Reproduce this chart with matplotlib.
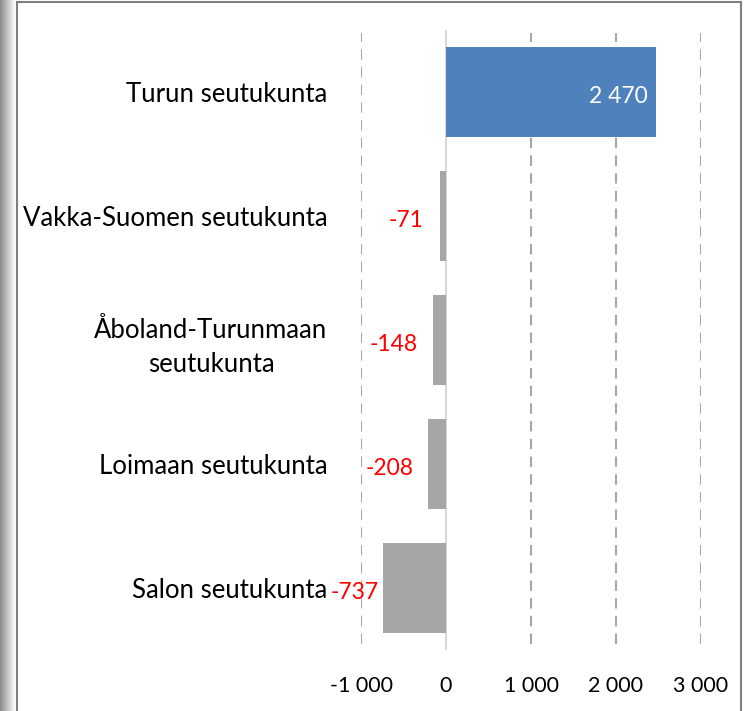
import matplotlib
matplotlib.use("Agg")
import matplotlib.pyplot as plt
import numpy as np
from matplotlib.patches import Rectangle

plt.rcParams["font.family"] = ["Lato", "DejaVu Sans"]

# Data
regions = ["Turun seutukunta", "Vakka-Suomen seutukunta",
           "Åboland-Turunmaan\nseutukunta", "Loimaan seutukunta",
           "Salon seutukunta"]
values = [2470, -71, -148, -208, -737]
value_labels = ["2 470", "-71", "-148", "-208", "-737"]
x_ticks = [-1000, 0, 1000, 2000, 3000]
x_tick_labels = ["-1 000", "0", "1 000", "2 000", "3 000"]

# label offsets (pixels) from bar end
label_offsets = [-8, -16, -16, -15, -5]

fig = plt.figure(figsize=(7.45, 7.11), dpi=100)

# frame with shadow on the left
for i in range(15):
    g = 0.55 + 0.03 * i
    fig.patches.append(Rectangle((i / 745, 0), 1 / 745, 1, transform=fig.transFigure,
                                 facecolor=(g, g, g), edgecolor="none", zorder=-2))
fig.patches.append(Rectangle((17 / 745, -0.05), 724 / 745, 1.05 - 1.5 / 711,
                             transform=fig.transFigure, facecolor="white",
                             edgecolor="#7f7f7f", linewidth=1.5, zorder=-1))

ax = fig.add_axes([361 / 745, 61 / 711, 340 / 745, 620 / 711])
ax.set_zorder(2)

y = np.arange(len(regions))
colors = ["#4F81BD" if v > 0 else "#A6A6A6" for v in values]
ax.barh(y, values, height=0.72, color=colors, zorder=3)

for yi, v, lab, off in zip(y, values, value_labels, label_offsets):
    col = "white" if v > 0 else "red"
    ax.annotate(lab, (v, yi), xytext=(off * 0.72, -3), textcoords="offset points",
                ha="right", va="center", color=col, fontsize=16.5, zorder=4)

ax.set_xlim(-1000, 3000)
ax.set_ylim(len(regions) - 0.5, -0.5)
ax.set_xticks(x_ticks)
ax.set_xticklabels(x_tick_labels, fontsize=15.5)
ax.set_yticks(y)
ax.set_yticklabels(regions, fontsize=18.5)
for lbl in ax.get_yticklabels():
    lbl.set_multialignment("center")
    lbl.set_linespacing(1.45)

ax.tick_params(axis="both", length=0)
ax.tick_params(axis="x", pad=19)
ax.tick_params(axis="y", pad=24)

for gx in [-1000, 1000, 2000, 3000]:
    ax.axvline(gx, ymin=0.01, ymax=0.995, color="#A6A6A6", linewidth=1.5,
               linestyle=(0, (5, 3.5)), zorder=1)
ax.axvline(0, color="#D9D9D9", linewidth=1.5, zorder=2)

for s in ax.spines.values():
    s.set_visible(False)
ax.set_facecolor("none")

fig.savefig("out.png", dpi=100)
